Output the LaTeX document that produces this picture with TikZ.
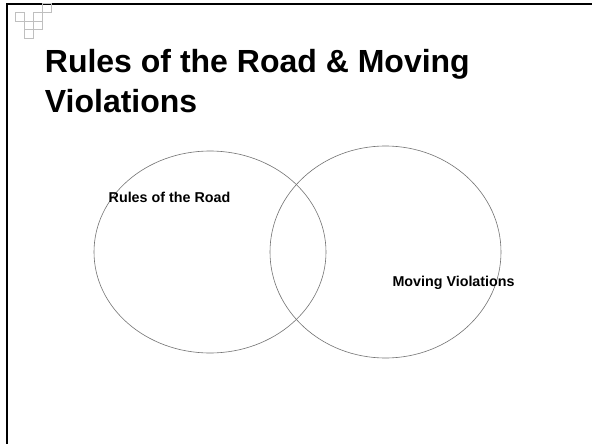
\documentclass[tikz,border=0pt]{standalone}
\usepackage{fontspec}
\setmainfont{Liberation Sans}
\usetikzlibrary{shapes.geometric}
\begin{document}
\begin{tikzpicture}[x=1pt,y=-1pt,
  frameline/.style={draw=black,line width=2pt},
  gridline/.style={draw=black!25,line width=0.6pt},
  venn/.style={ellipse,draw=black!55,line width=0.6pt,inner sep=0pt},
  titletext/.style={anchor=base west,inner sep=0pt,font=\bfseries\fontsize{32}{40}\selectfont},
  labeltext/.style={anchor=base west,inner sep=0pt,font=\bfseries\fontsize{14.3}{17}\selectfont}]
\useasboundingbox[fill=white] (0,0) rectangle (592,444);
% slide frame
\coordinate (fc) at (7,4.5);
\coordinate (fr) at (592,4.5);
\coordinate (fb) at (7,444);
\draw[frameline] (fr) -- (fc) -- (fb);
% corner grid ornament
\foreach \c/\r in {3/0,0/1,2/1,1/2,2/2,1/3}{
  \draw[gridline] ({15.3+8.9*\c},{3.5+8.7*\r}) rectangle ++(8.9,8.7);
}
% title
\node[titletext] (t1) at (44.7,72.7) {Rules of the Road \& Moving};
\node[titletext] (t2) at (44.7,112.7) {Violations};
% venn circles
\node[venn,minimum width=232pt,minimum height=202pt] (e1) at (210,252) {};
\node[venn,minimum width=231pt,minimum height=212pt] (e2) at (385.5,252) {};
% labels
\node[labeltext] (l1) at (108.5,202.3) {Rules of the Road};
\node[labeltext] (l2) at (392.3,286) {Moving Violations};
\end{tikzpicture}
\end{document}
